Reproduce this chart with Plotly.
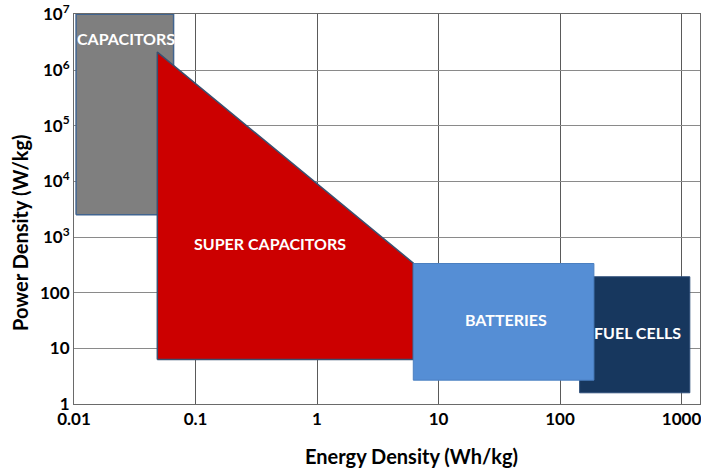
import numpy as np
import plotly.graph_objects as go

# Energy density (Wh/kg) / power density (W/kg) regions
cap_energy = [0.0104, 0.066]
cap_power = [2500, 1e7]

sc_energy = [0.0485, 6.2]
sc_power_low = 6.3
sc_power_top_left = 2.1e6
sc_power_top_right = 340

bat_energy = [6.2, 190]
bat_power = [2.68, 334]

fc_energy = [145, 1170]
fc_power = [1.59, 193]

labels = ["CAPACITORS", "SUPER CAPACITORS", "BATTERIES", "FUEL CELLS"]
label_x = [0.027, 0.414, 35.6, 434]
label_y = [3.7e6, 760, 32.5, 19.5]

x_tickvals = [0.01, 0.1, 1, 10, 100, 1000]
x_ticktext = ["0.01", "0.1", "1", "10", "100", "1000"]
y_tickvals = [1, 10, 100, 1e3, 1e4, 1e5, 1e6, 1e7]
y_ticktext = ["1", "10", "100", "10<sup>3</sup>", "10<sup>4</sup>",
              "10<sup>5</sup>", "10<sup>6</sup>", "10<sup>7</sup>"]

x_title = "Energy Density (Wh/kg)"
y_title = "Power Density (W/kg)"

FONT = "Lato"


def rect(xs, ys):
    return ([xs[0], xs[1], xs[1], xs[0], xs[0]],
            [ys[0], ys[0], ys[1], ys[1], ys[0]])


fig = go.Figure()

cx, cy = rect(cap_energy, cap_power)
fig.add_trace(go.Scatter(x=cx, y=cy, fill="toself", fillcolor="#7f7f7f",
                         mode="lines", line=dict(color="#41648f", width=1.5),
                         hoverinfo="skip", showlegend=False))

sx = [sc_energy[0], sc_energy[0], sc_energy[1], sc_energy[1], sc_energy[0]]
sy = [sc_power_low, sc_power_top_left, sc_power_top_right, sc_power_low, sc_power_low]
fig.add_trace(go.Scatter(x=sx, y=sy, fill="toself", fillcolor="#cc0000",
                         mode="lines", line=dict(color="#3a5070", width=1.5),
                         hoverinfo="skip", showlegend=False))

fx, fy = rect(fc_energy, fc_power)
fig.add_trace(go.Scatter(x=fx, y=fy, fill="toself", fillcolor="#17375e",
                         mode="lines", line=dict(color="#2c4d78", width=1),
                         hoverinfo="skip", showlegend=False))

bx, by = rect(bat_energy, bat_power)
fig.add_trace(go.Scatter(x=bx, y=by, fill="toself", fillcolor="#558ed5",
                         mode="lines", line=dict(color="#4a7fc0", width=1),
                         hoverinfo="skip", showlegend=False))

for t, x, y in zip(labels, label_x, label_y):
    fig.add_annotation(x=np.log10(x), y=np.log10(y), text="<b>%s</b>" % t,
                       showarrow=False, xref="x", yref="y",
                       font=dict(family=FONT, size=16, color="white"))

# axis titles (offset like in the reference)
fig.add_annotation(x=0.539, y=-0.133, xref="paper", yref="paper",
                   text="<b>%s</b>" % x_title, showarrow=False,
                   xanchor="center", yanchor="middle",
                   font=dict(family=FONT, size=20, color="black"))
fig.add_annotation(x=-0.0863, y=0.441, xref="paper", yref="paper",
                   text="<b>%s</b>" % y_title, showarrow=False, textangle=-90,
                   xanchor="center", yanchor="middle",
                   font=dict(family=FONT, size=20, color="black"))

fig.update_layout(
    width=701, height=468,
    margin=dict(l=74, r=1, t=14, b=64),
    paper_bgcolor="white", plot_bgcolor="white",
    font=dict(family=FONT, color="black"),
    showlegend=False,
)
fig.update_xaxes(type="log", range=[-2, 3.152], tickvals=x_tickvals,
                 ticktext=["<b>%s</b>" % t for t in x_ticktext],
                 tickfont=dict(family=FONT, size=17, color="black"),
                 ticklabeloverflow="allow",
                 showgrid=True, gridcolor="#5a5a5a", gridwidth=1,
                 showline=True, linecolor="#6a6a6a", linewidth=1, mirror=True,
                 zeroline=False, ticks="")
fig.update_yaxes(type="log", range=[0, 7.006], tickvals=y_tickvals,
                 ticktext=["<b>%s</b>" % t for t in y_ticktext],
                 tickfont=dict(family=FONT, size=17, color="black"),
                 ticklabeloverflow="allow",
                 showgrid=True, gridcolor="#8a8a8a", gridwidth=1,
                 showline=True, linecolor="#6a6a6a", linewidth=1, mirror=True,
                 zeroline=False, ticks="")

fig.write_html("out.html")
